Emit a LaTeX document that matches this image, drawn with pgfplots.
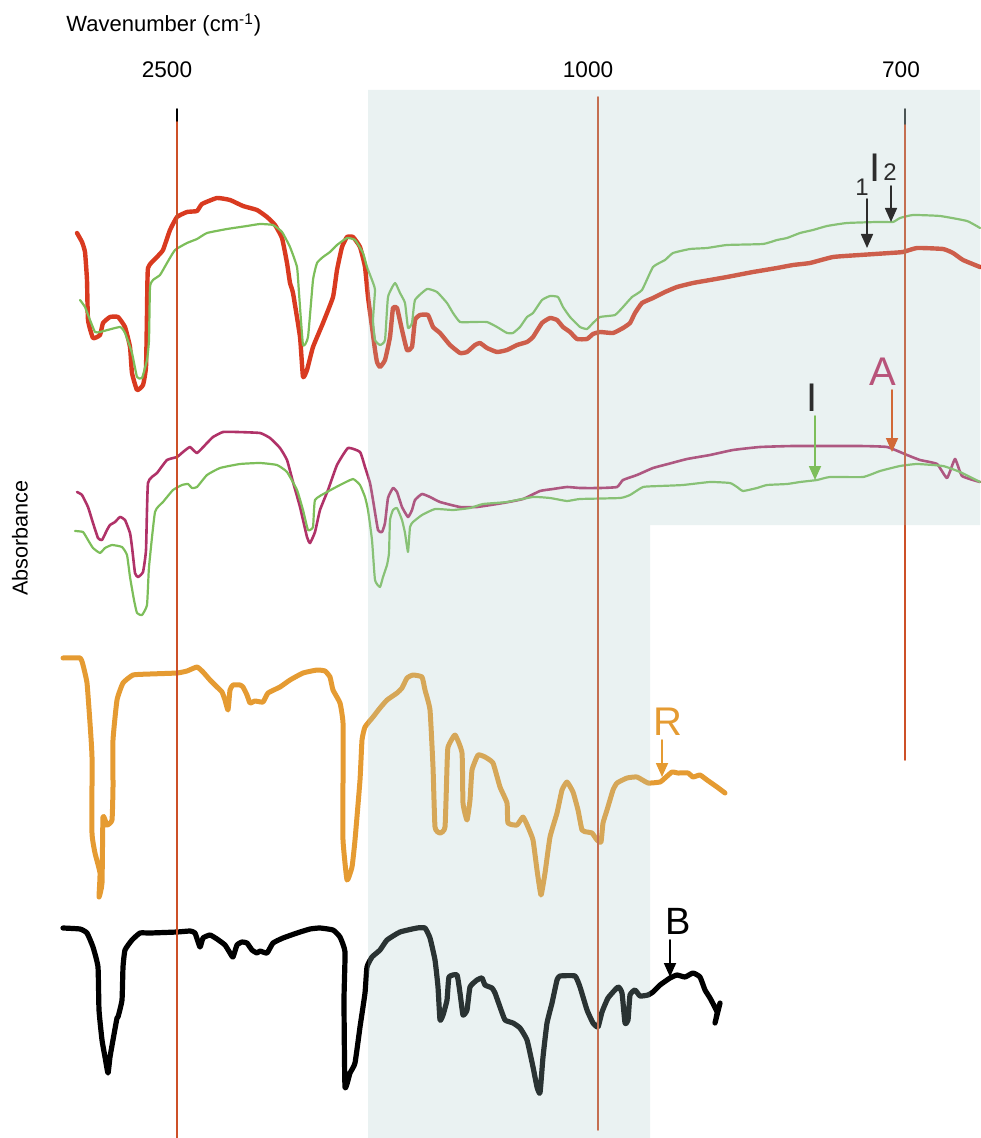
\documentclass[border=0pt]{standalone}
\usepackage{pgfplots}
\pgfplotsset{compat=1.18}
\usepackage{fontspec}
\setmainfont{Liberation Sans}
\usetikzlibrary{arrows.meta}
\definecolor{redc}{RGB}{217,58,32}
\definecolor{greenc}{RGB}{125,190,90}
\definecolor{pinkc}{RGB}{176,50,104}
\definecolor{orangec}{RGB}{229,155,50}
\definecolor{vline}{RGB}{205,80,40}
\definecolor{shadec}{RGB}{170,205,205}
\definecolor{darkc}{RGB}{45,45,45}
\definecolor{arrowor}{RGB}{210,105,55}
\definecolor{alab}{RGB}{184,84,122}
\begin{document}
\begin{tikzpicture}
\begin{axis}[
  scale only axis, width=490pt, height=569pt,
  xmin=0, xmax=980, ymin=0, ymax=1138, y dir=reverse,
  hide axis, clip=false,
  line join=round, line cap=round,
  every axis plot/.append style={smooth, tension=0.25},
]
% top red (sample 1)
\addplot[redc, line width=2.2pt] coordinates {
(77,233) (82,242) (85,252) (87,280) (88,320) (93,338) (100,335) (103,323) (110,317) (118,317) (125,327) (130,347) (132,373) (137,390) (143,385) (146,367) (147,313) (148,268) (157,257) (163,250) (170,230) (177,217) (187,212) (197,211) (202,204) (217,198) (230,200) (243,206) (257,210) (267,217) (275,225) (282,238) (287,263) (290,283) (293,293) (300,337) (303,377) (307,370) (313,347) (323,323) (333,297) (337,270) (342,247) (347,237) (353,237) (360,247) (365,267) (368,297) (372,327) (375,350) (377,362) (380,367) (385,360) (390,337) (393,308) (397,308) (402,330) (407,350) (412,347) (415,320) (420,315) (428,315) (433,327) (440,333) (450,345) (460,353) (467,352) (475,345) (480,343) (487,348) (497,352) (507,350) (517,345) (527,342) (533,337) (542,323) (550,318) (557,320) (563,327) (570,332) (577,339) (587,339) (593,334) (600,332) (613,333) (623,328) (630,323) (635,313) (642,303) (653,298) (665,292) (677,287) (693,283) (710,280) (727,277) (753,272) (777,268) (793,265) (810,263) (833,257) (860,255) (890,253) (903,252) (917,248) (943,249) (953,253) (963,260) (980,267)
};
% top green
\addplot[greenc, line width=1.1pt] coordinates {
(80,300) (85,307) (90,320) (95,332) (100,332) (120,327) (125,333) (132,353) (137,377) (142,378) (147,360) (149,340) (150,287) (153,280) (160,275) (167,263) (175,250) (187,243) (197,239) (207,233) (227,229) (247,226) (260,224) (273,225) (282,232) (290,247) (297,267) (299,293) (303,345) (308,337) (313,280) (317,263) (323,257) (330,252) (337,245) (347,238) (355,240) (363,253) (367,267) (372,280) (375,290) (373,320) (375,340) (380,345) (385,340) (388,297) (395,283) (400,293) (405,303) (408,328) (412,323) (415,300) (427,289) (437,292) (447,303) (453,313) (460,322) (473,322) (487,322) (497,327) (507,333) (513,333) (520,327) (527,317) (533,313) (542,300) (550,296) (558,297) (563,307) (570,317) (580,327) (587,329) (593,323) (600,317) (615,315) (623,307) (632,297) (642,290) (653,267) (665,260) (673,253) (690,249) (707,248) (727,245) (763,244) (777,240) (787,238) (800,233) (813,230) (827,226) (847,223) (877,222) (893,222) (900,218) (913,215) (940,216) (967,221) (980,228)
};
% pink (sample A)
\addplot[pinkc, line width=1.3pt] coordinates {
(77,492) (82,495) (88,507) (93,523) (98,538) (102,540) (107,530) (110,525) (115,522) (120,517) (125,520) (130,533) (132,547) (135,573) (138,577) (143,572) (146,550) (148,483) (157,473) (167,460) (177,457) (183,452) (190,447) (197,453) (207,443) (213,437) (223,432) (237,432) (260,433) (270,438) (280,448) (287,460) (293,482) (300,507) (307,537) (310,543) (315,532) (320,510) (328,490) (337,465) (348,448) (360,452) (365,467) (370,483) (373,500) (378,530) (382,532) (385,523) (388,498) (393,488) (397,492) (402,507) (408,517) (412,510) (415,500) (422,494) (430,497) (440,502) (460,507) (477,507) (503,503) (523,499) (540,491) (553,489) (567,487) (580,488) (600,488) (617,487) (623,480) (637,475) (653,468) (668,464) (687,459) (710,455) (733,450) (760,447) (793,446) (833,446) (860,446) (887,447) (907,455) (920,460) (937,464) (947,478) (955,459) (962,476) (980,482)
};
% second green (sample I)
\addplot[greenc, line width=1.1pt] coordinates {
(75,531) (83,532) (88,540) (93,548) (100,553) (105,548) (112,545) (122,547) (127,555) (130,577) (134,600) (137,613) (142,615) (147,605) (149,567) (155,512) (163,502) (173,490) (182,485) (188,484) (192,488) (197,487) (207,475) (220,468) (240,464) (260,463) (277,465) (287,472) (297,490) (303,510) (308,530) (313,527) (315,500) (327,492) (340,485) (353,479) (360,485) (365,497) (368,510) (372,540) (375,580) (380,587) (383,577) (387,565) (389,553) (390,520) (393,510) (397,508) (402,520) (405,533) (408,552) (410,527) (413,522) (422,515) (435,509) (453,510) (470,508) (483,504) (507,502) (533,497) (550,498) (567,501) (580,499) (620,498) (630,495) (643,487) (660,486) (683,485) (710,482) (730,483) (737,487) (743,491) (757,488) (767,485) (787,484) (800,482) (817,480) (830,477) (863,477) (880,471) (900,466) (917,464) (943,466) (960,472) (980,482)
};
% orange (sample R)
\addplot[orangec, line width=2.5pt] coordinates {
(63,658) (80,658) (83,665) (87,683) (90,723) (92,757) (92,833) (95,853) (100,873) (99,897) (102,883) (103,817) (107,825) (112,820) (113,787) (113,740) (117,700) (123,683) (133,675) (150,674) (177,673) (187,671) (197,667) (203,672) (210,680) (217,687) (222,692) (225,700) (228,710) (230,690) (233,685) (240,685) (243,687) (247,695) (250,703) (255,701) (263,702) (268,693) (280,687) (290,680) (303,673) (317,670) (325,671) (330,677) (333,690) (340,703) (343,723) (343,780) (343,840) (347,880) (352,867) (355,840) (360,780) (362,740) (365,727) (373,717) (380,708) (387,700) (397,693) (402,688) (407,678) (413,675) (422,677) (425,690) (430,710) (433,767) (435,827) (440,833) (445,827) (447,767) (448,747) (455,735) (462,753) (463,803) (467,820) (470,800) (472,770) (478,755) (485,757) (493,763) (500,787) (507,803) (508,823) (517,825) (523,817) (528,827) (533,840) (537,870) (541,895) (545,873) (550,837) (557,813) (562,790) (567,782) (573,792) (578,810) (582,830) (587,832) (592,833) (597,840) (601,842) (603,823) (607,810) (613,790) (617,783) (627,778) (637,777) (648,783) (660,782) (665,778) (672,772) (678,773) (688,773) (693,777) (700,775) (707,780) (717,787) (725,793)
};
% black (sample B)
\addplot[black, line width=2.6pt] coordinates {
(63,928) (80,929) (87,933) (93,947) (98,967) (99,1010) (102,1040) (105,1057) (108,1073) (110,1057) (113,1040) (117,1018) (118,1017) (122,1000) (123,967) (125,950) (132,940) (140,933) (150,933) (177,932) (190,931) (195,933) (200,947) (203,938) (210,935) (217,939) (225,945) (230,953) (233,957) (237,945) (242,942) (247,943) (252,950) (257,953) (260,951) (267,953) (273,943) (283,938) (297,933) (310,929) (320,928) (333,930) (340,937) (345,952) (344,1000) (345,1087) (350,1073) (355,1063) (360,1027) (365,993) (367,967) (372,957) (380,950) (387,940) (400,932) (417,928) (425,928) (430,938) (435,960) (438,987) (440,1020) (443,1015) (447,1000) (449,977) (457,975) (460,993) (463,1015) (467,1010) (470,987) (477,980) (482,978) (485,985) (492,988) (495,993) (500,1007) (505,1020) (513,1023) (520,1028) (527,1040) (533,1067) (537,1087) (540,1093) (543,1057) (547,1023) (552,1003) (557,980) (560,976) (575,976) (580,987) (587,1010) (593,1023) (598,1027) (602,1012) (608,998) (618,987) (622,993) (625,1023) (628,1020) (630,995) (635,990) (640,996) (648,995) (653,992) (660,985) (670,978) (677,975) (685,977) (693,973) (700,977) (705,990) (710,998) (717,1012) (715,1023) (720,1003)
};
% vertical reference lines
\addplot[vline, line width=0.8pt, sharp plot] coordinates {(177,120) (177,1138)};
\addplot[vline, line width=0.8pt, sharp plot] coordinates {(598,97) (598,1130)};
\addplot[vline, line width=0.8pt, sharp plot] coordinates {(905,124) (905,760)};
\addplot[black, line width=0.9pt, sharp plot] coordinates {(177,109) (177,121)};
\addplot[darkc, line width=0.9pt, sharp plot] coordinates {(905,109) (905,124)};
% shaded region (semi-transparent overlay)
\addplot[draw=none, fill=shadec, fill opacity=0.25, sharp plot] coordinates {
(368,90) (980,90) (980,525) (650,525) (650,1138) (368,1138)} -- cycle;
% annotations
\node[font=\fontsize{12}{12}\selectfont, text=darkc] at (axis cs:862,187) {1};
\node[font=\fontsize{20}{20}\selectfont, text=darkc] at (axis cs:875,168) {I};
\node[font=\fontsize{12}{12}\selectfont, text=darkc] at (axis cs:890,172) {2};
\draw[darkc, line width=0.8pt, -{Triangle[width=6pt,length=7pt]}] (axis cs:867,199) -- (axis cs:867,248);
\draw[darkc, line width=0.8pt, -{Triangle[width=6pt,length=7pt]}] (axis cs:891,186) -- (axis cs:891,222);
\node[font=\fontsize{20}{20}\selectfont, text=alab] at (axis cs:883,372) {A};
\draw[arrowor, line width=0.9pt, -{Triangle[width=6pt,length=7pt]}] (axis cs:892,390) -- (axis cs:892,452);
\node[font=\fontsize{20}{20}\selectfont, text=darkc] at (axis cs:812,398) {I};
\draw[greenc, line width=0.9pt, -{Triangle[width=6pt,length=7pt]}] (axis cs:815,416) -- (axis cs:815,480);
\node[font=\fontsize{20}{20}\selectfont, text=orangec] at (axis cs:668,722) {R};
\draw[orangec, line width=0.9pt, -{Triangle[width=6pt,length=7pt]}] (axis cs:662,740) -- (axis cs:662,777);
\node[font=\fontsize{19}{19}\selectfont, text=black] at (axis cs:678,921) {B};
\draw[black, line width=0.9pt, -{Triangle[width=6pt,length=7pt]}] (axis cs:670,940) -- (axis cs:670,977);
% texts
\node[anchor=base west, inner sep=0pt, font=\fontsize{11}{12}\selectfont] at (axis cs:66,32) {Wavenumber (cm\textsuperscript{-1})};
\node[anchor=base, font=\fontsize{11.3}{12}\selectfont] at (axis cs:167,78) {2500};
\node[anchor=base, font=\fontsize{11.3}{12}\selectfont] at (axis cs:588,78) {1000};
\node[anchor=base, font=\fontsize{11.3}{12}\selectfont] at (axis cs:901,78) {700};
\node[rotate=90, font=\fontsize{10.8}{12}\selectfont] at (axis cs:20,538) {Absorbance};
\end{axis}
\pgfresetboundingbox
\path[use as bounding box] (current axis.south west) rectangle (current axis.north east);
\end{tikzpicture}
\end{document}
